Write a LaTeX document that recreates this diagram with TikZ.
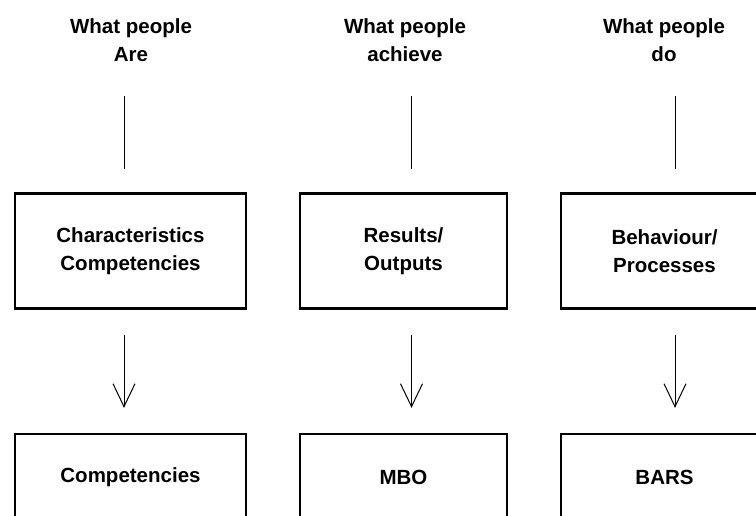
\documentclass[tikz,border=0pt]{standalone}
\usepackage{fontspec}
\setmainfont{Liberation Sans}
\usepackage{tikz}
\usetikzlibrary{positioning, arrows.meta, calc}

\begin{document}
\begin{tikzpicture}[
    x=1pt, y=1pt,
    every node/.style={align=center, font=\fontsize{20.5}{28}\selectfont\bfseries},
    header/.style={inner sep=0pt},
    box/.style={draw, line width=2.3pt, inner sep=0pt, minimum width=231pt, minimum height=115pt},
    method/.style={box, minimum height=86pt},
    link/.style={line width=1pt, shorten <=34pt, shorten >=23pt},
    down/.style={line width=1pt, shorten <=25pt, shorten >=25pt, -{Straight Barb[length=23pt, width=22pt]}}
]
\useasboundingbox (0,0) rectangle (756,516);
\clip (0,0) rectangle (756,516);

% Header labels
\node[header] (hA) at (131,475.5) {What people\\Are};
\node[header] (hB) at (405,475.5) {What people\\achieve};
\node[header] (hC) at (664,475.5) {What people\\do};

% Middle row
\node[box] (bA) at (130.5,265) {Characteristics\\Competencies};
\node[box, minimum width=207pt] (bB) at (403.5,265) {Results/\\Outputs};
\node[box, minimum width=207pt] (bC) at (664.5,265) {Behaviour/\\Processes};

% Bottom row (cut off by the page)
\node[method] (mA) at (130.5,39) {Competencies};
\node[method, minimum width=207pt] (mB) at (403.5,39) {MBO};
\node[method, minimum width=207pt] (mC) at (664.5,39) {BARS};

% Columns where the connectors run
\coordinate (xA) at (124,0);
\coordinate (xB) at (411.5,0);
\coordinate (xC) at (675,0);

% Header -> box
\draw[link] (hA.south -| xA) -- (bA.north -| xA);
\draw[link] (hB.south -| xB) -- (bB.north -| xB);
\draw[link] (hC.south -| xC) -- (bC.north -| xC);

% Box -> method
\draw[down] (bA.south -| xA) -- (mA.north -| xA);
\draw[down] (bB.south -| xB) -- (mB.north -| xB);
\draw[down] (bC.south -| xC) -- (mC.north -| xC);

\end{tikzpicture}
\end{document}
